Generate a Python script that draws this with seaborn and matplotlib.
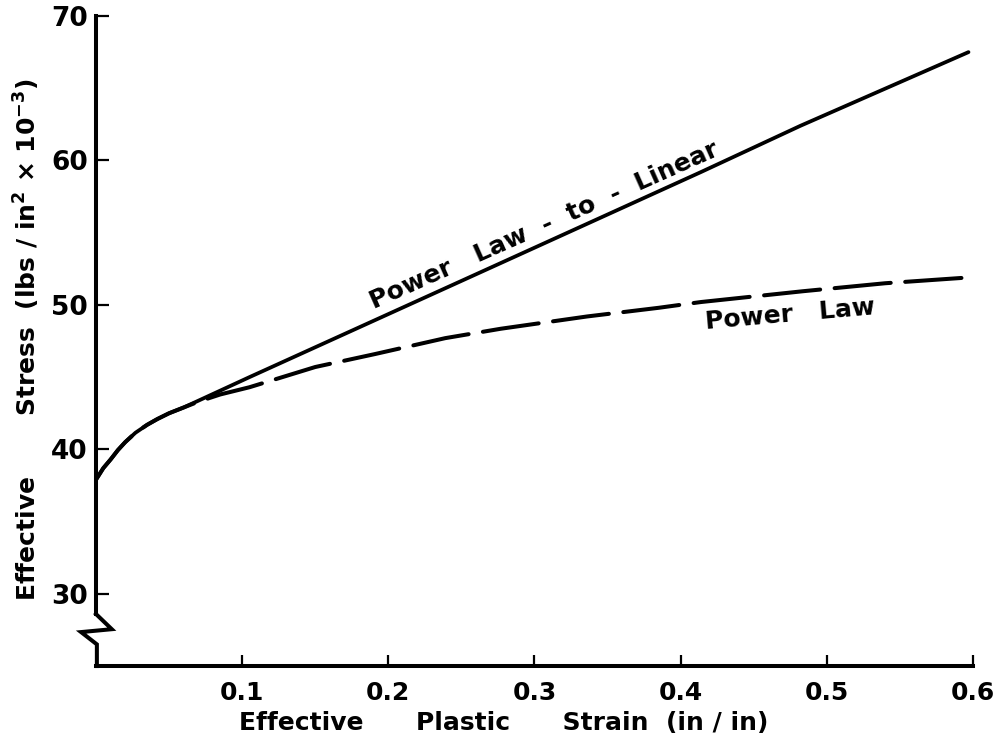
import matplotlib
matplotlib.use("Agg")
import matplotlib.pyplot as plt
import matplotlib.transforms as mtransforms
import seaborn as sns

# Effective plastic strain (in/in) and effective stress (ksi) for the two hardening models
strain_power_law = [0.0, 0.005, 0.01, 0.015, 0.02, 0.027, 0.035, 0.042, 0.05, 0.06, 0.07,
                    0.085, 0.105, 0.15, 0.191, 0.239, 0.277, 0.336, 0.385, 0.414, 0.484,
                    0.54, 0.597]
stress_power_law = [37.9, 38.7, 39.3, 39.95, 40.5, 41.15, 41.7, 42.1, 42.5, 42.9, 43.3,
                    43.8, 44.3, 45.7, 46.6, 47.7, 48.35, 49.2, 49.8, 50.2, 50.95,
                    51.5, 51.9]

strain_power_linear = [0.0, 0.005, 0.01, 0.015, 0.02, 0.027, 0.035, 0.042, 0.05, 0.06,
                       0.105, 0.277, 0.414, 0.482, 0.597]
stress_power_linear = [37.9, 38.7, 39.3, 39.95, 40.5, 41.15, 41.7, 42.1, 42.5, 42.9,
                       45.0, 52.9, 59.2, 62.4, 67.5]

x_ticks = [0.1, 0.2, 0.3, 0.4, 0.5, 0.6]
x_tick_labels = ["0.1", "0.2", "0.3", "0.4", "0.5", "0.6"]
y_ticks = [30, 40, 50, 60, 70]
y_tick_labels = ["30", "40", "50", "60", "70"]

sns.set_style("ticks")
plt.rcParams["font.family"] = ["DejaVu Sans"]
plt.rcParams["font.weight"] = "bold"
plt.rcParams["mathtext.default"] = "bf"
for key in ("text.color", "axes.labelcolor", "xtick.color", "ytick.color",
            "axes.edgecolor"):
    plt.rcParams[key] = "black"

fig = plt.figure(figsize=(10.01, 7.45), dpi=100)
ax = fig.add_axes([0.0959, 0.106, 0.876, 0.8725])

sns.lineplot(x=strain_power_linear, y=stress_power_linear, ax=ax, color="black",
             linewidth=2.7, errorbar=None, solid_capstyle="round",
             solid_joinstyle="round")
sns.lineplot(x=strain_power_law, y=stress_power_law, ax=ax, color="black",
             linewidth=2.9, errorbar=None, linestyle=(0, (14, 3.6)),
             dash_capstyle="round", dash_joinstyle="round")

ax.set_xlim(0, 0.6)
ax.set_ylim(25, 70)
ax.set_xticks(x_ticks)
ax.set_xticklabels(x_tick_labels)
ax.set_yticks(y_ticks)
ax.set_yticklabels(y_tick_labels)

for side in ("top", "right"):
    ax.spines[side].set_visible(False)
for side in ("left", "bottom"):
    ax.spines[side].set_linewidth(2.9)
    ax.spines[side].set_color("black")
    ax.spines[side].set_capstyle("projecting")
ax.spines["left"].set_bounds(28.6, 70)

# broken-axis zigzag below 30
brk = mtransforms.blended_transform_factory(ax.transAxes, ax.transData)
ax.plot([0.0, 0.018, -0.017, 0.001, 0.001], [28.6, 27.55, 27.35, 26.5, 25.0],
        color="black", linewidth=2.9, transform=brk, clip_on=False,
        solid_joinstyle="miter", solid_capstyle="projecting")

ax.tick_params(axis="y", direction="in", length=9, width=1.6, pad=6,
               labelsize=19, colors="black")
ax.tick_params(axis="x", direction="in", length=8, width=1.6, pad=11,
               labelsize=18, colors="black")
for lab in ax.get_xticklabels() + ax.get_yticklabels():
    lab.set_fontweight("bold")

ax.text(0.465, -0.0877, "Effective      Plastic      Strain  (in / in)",
        transform=ax.transAxes, ha="center", va="center",
        fontsize=18, fontweight="bold", color="black")
ax.text(-0.079, 0.5015,
        "Effective       Stress  (lbs / in$^{2}$ × 10$^{-3}$)",
        transform=ax.transAxes, ha="center", va="center", rotation=90,
        fontsize=18, fontweight="bold", color="black")

ax.text(0.307, 55.5, "Power   Law  -  to  -  Linear", rotation=24,
        rotation_mode="anchor", ha="center", va="center",
        fontsize=18, fontweight="bold", color="black")
ax.text(0.475, 49.35, "Power   Law", rotation=5, rotation_mode="anchor",
        ha="center", va="center", fontsize=18, fontweight="bold", color="black")

fig.savefig("out.png", dpi=100, facecolor="white")
